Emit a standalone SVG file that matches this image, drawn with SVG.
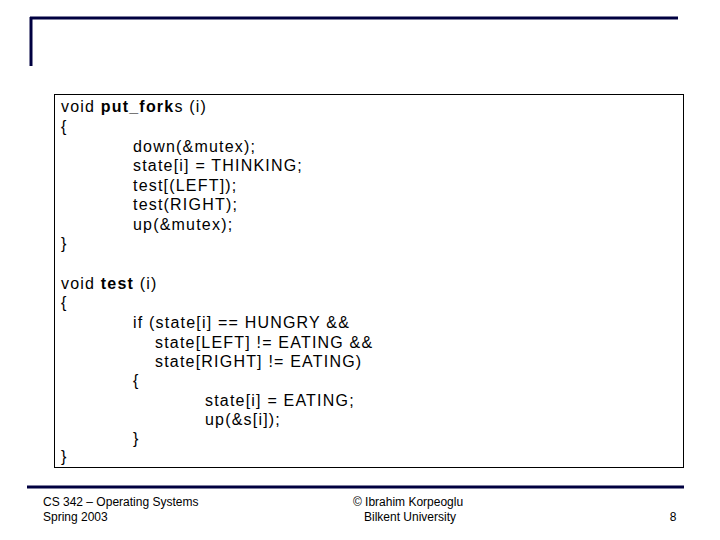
<svg xmlns="http://www.w3.org/2000/svg" width="720" height="540" viewBox="0 0 720 540">
<style>
.c{font-family:"Liberation Sans",Arial,sans-serif;font-size:16px;fill:#000;letter-spacing:1.2px}
.f{font-family:"Liberation Sans",Arial,sans-serif;font-size:12px;fill:#000}
.b{font-weight:bold}
.bar{stroke:#000040;fill:none}
</style>
<rect width="720" height="540" fill="#fff"/>
<g id="frame">
<line class="bar" x1="30" y1="18" x2="678" y2="18" stroke-width="3"/>
<line class="bar" x1="31" y1="17" x2="31" y2="66" stroke-width="3"/>
<line class="bar" x1="27" y1="487" x2="684" y2="487" stroke-width="3"/>
</g>
<g id="codebox">
<rect x="54.5" y="94.5" width="629" height="373" fill="#fff" stroke="#000" stroke-width="1"/>
<g class="c">
<text x="61" y="112">void <tspan class="b">put_fork</tspan>s (i)</text>
<text x="61" y="132">{</text>
<text x="133" y="152">down(&amp;mutex);</text>
<text x="133" y="171">state[i] = THINKING;</text>
<text x="133" y="191">test[(LEFT]);</text>
<text x="133" y="210">test(RIGHT);</text>
<text x="133" y="230">up(&amp;mutex);</text>
<text x="61" y="249">}</text>
<text x="61" y="289">void <tspan class="b">test</tspan> (i)</text>
<text x="61" y="308">{</text>
<text x="133" y="328">if (state[i] == HUNGRY &amp;&amp;</text>
<text x="155" y="348">state[LEFT] != EATING &amp;&amp;</text>
<text x="155" y="367">state[RIGHT] != EATING)</text>
<text x="133" y="386">{</text>
<text x="205" y="406">state[i] = EATING;</text>
<text x="205" y="425">up(&amp;s[i]);</text>
<text x="133" y="444">}</text>
<text x="61" y="462">}</text>
</g>
</g>
<g id="footer" class="f">
<text x="43" y="506">CS 342 – Operating Systems</text>
<text x="43" y="521">Spring 2003</text>
<text x="408" y="506" text-anchor="middle">© Ibrahim Korpeoglu</text>
<text x="410" y="521" text-anchor="middle">Bilkent University</text>
<text x="673" y="521" text-anchor="middle">8</text>
</g>
</svg>
